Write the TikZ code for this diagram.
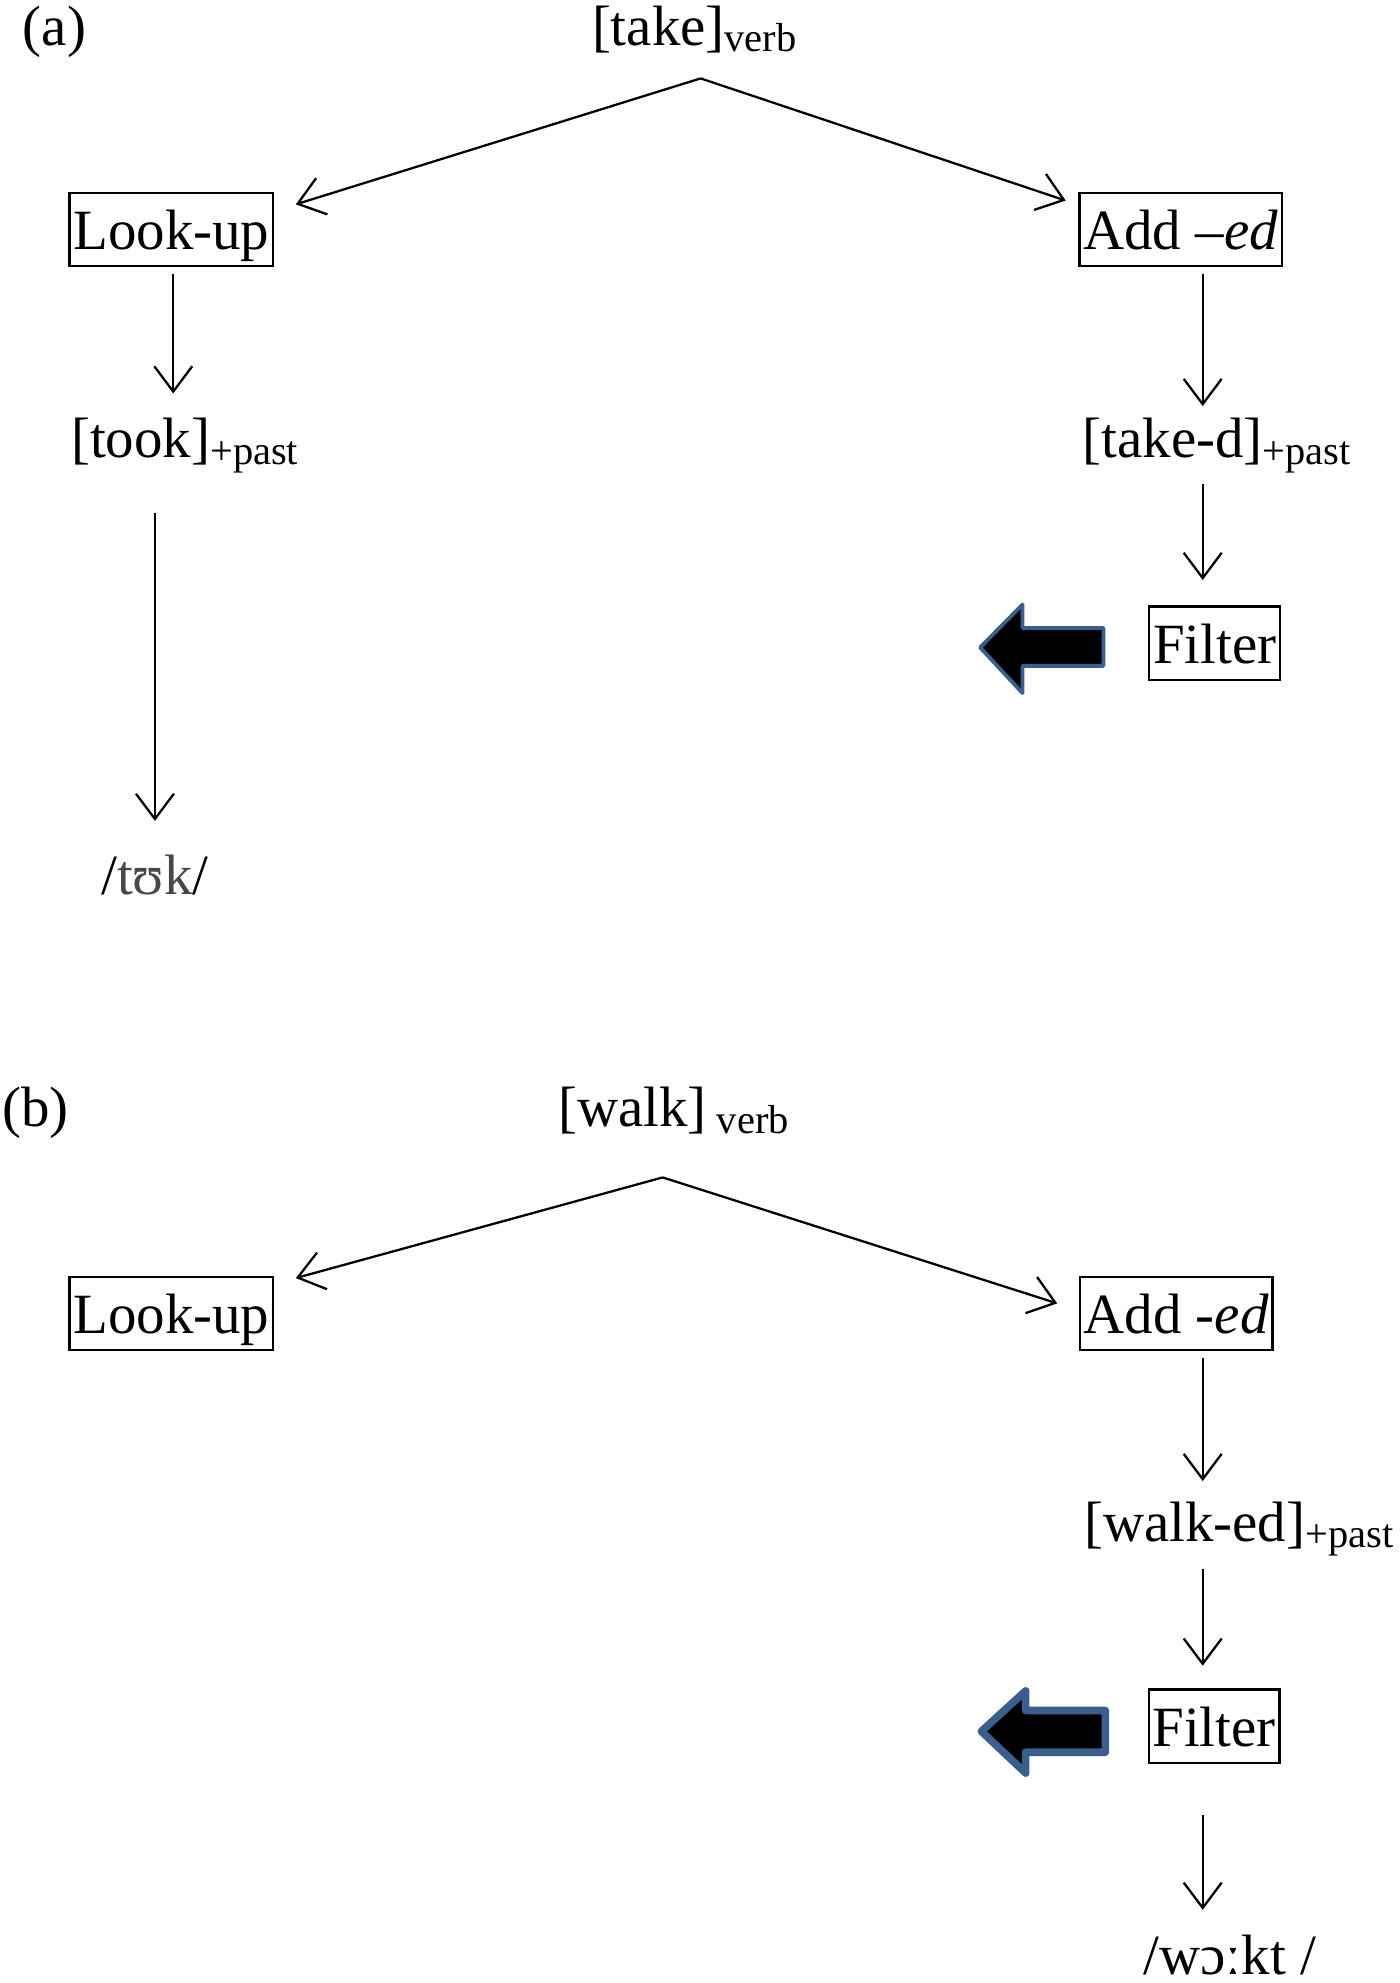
\documentclass[tikz,border=0pt]{standalone}
\usepackage{fontspec}
\setmainfont{Liberation Serif}
\usetikzlibrary{arrows.meta}
\usepackage{xcolor}
\definecolor{arrowblue}{RGB}{59,95,140}
\definecolor{ipagray}{RGB}{72,72,72}
\newcommand{\infl}[1]{{\fontsize{32}{36}\selectfont\raisebox{-5pt}{#1}}}

\begin{document}
\begin{tikzpicture}[x=1pt,y=-1pt,line width=1.8pt,>={Straight Barb[length=20pt,width=30pt]}]
    \tikzstyle{word}=[inner sep=0pt,anchor=base,text height=32pt,text depth=10pt,font=\fontsize{45}{54}\selectfont]
    \tikzstyle{process}=[word,draw,anchor=center,inner xsep=3pt,text height=37pt,text depth=5pt,minimum height=58pt]
    \tikzstyle{flow}=[->]
    \tikzstyle{blockarrow}=[draw=arrowblue,fill=black,line join=round]

    \useasboundingbox (0,0) rectangle (1107,1568);

    % (a) take
    \node[word] (labela) at (43,36) {(a)};
    \node[word] (take) at (549,36) {[take]\infl{verb}};
    \coordinate (top1) at (554,62);

    \node[process] (look1) at (135.5,181.5) {Look-up};
    \node[process] (add1) at (933.5,181.5) {Add –\textit{ed}};
    \node[word] (took) at (146,362) {[took]\infl{+past}};
    \node[word] (taked) at (962,362) {[take-d]\infl{+past}};
    \node[word] (tuk) at (122.5,707) {/\textcolor{ipagray}{tʊk}/};
    \node[process] (filt1) at (960.5,508.5) {Filter};

    \draw[flow] (top1) -- ([xshift=17pt,yshift=-10pt]look1.north east);
    \draw[flow] (top1) -- ([xshift=-10pt,yshift=-7pt]add1.north west);
    \draw[flow,shorten <=5pt,shorten >=18pt] ([xshift=1.5pt]look1.south) -- ([xshift=1.5pt]look1.south |- took.north);
    \draw[flow,shorten <=33pt,shorten >=25pt] (took.south -| tuk.north) -- (tuk.north);
    \draw[flow,shorten <=5pt,shorten >=8pt] ([xshift=17.5pt]add1.south) -- ([xshift=17.5pt]add1.south |- taked.north);
    \draw[flow,shorten <=10pt,shorten >=20pt] ([xshift=-9.5pt]filt1.north |- taked.south) -- ([xshift=-9.5pt]filt1.north);

    \draw[blockarrow,line width=3pt] (775,512) -- (808.5,478) -- (808.5,496.5) -- (872.5,496.5)
        -- (872.5,526.5) -- (808.5,526.5) -- (808.5,548) -- cycle;

    % (b) walk
    \node[word] (labelb) at (28,891) {(b)};
    \node[word] (walk) at (532.5,891) {[walk]\infl{\ verb}};
    \coordinate (top2) at (524,931);

    \node[process] (look2) at (135.5,1038.5) {Look-up};
    \node[process] (add2) at (930,1038.5) {Add \textit{-ed}};
    \node[word] (walked) at (979.5,1219) {[walk-ed]\infl{+past}};
    \node[process] (filt2) at (960,1365) {Filter};
    \node[word,text depth=4pt] (wokt) at (972.5,1561) {/wɔːkt /};

    \draw[flow] (top2) -- ([xshift=17pt,yshift=-2pt]look2.north east);
    \draw[flow] (top2) -- ([xshift=-17pt,yshift=-22pt]add2.north west);
    \draw[flow,shorten <=5pt,shorten >=15pt] ([xshift=21pt]add2.south) -- ([xshift=21pt]add2.south |- walked.north);
    \draw[flow,shorten <=11pt,shorten >=18pt] ([xshift=-9pt]filt2.north |- walked.south) -- ([xshift=-9pt]filt2.north);
    \draw[flow,shorten <=40pt,shorten >=18pt] ([xshift=-9pt]filt2.south) -- ([xshift=-9pt]filt2.south |- wokt.north);

    \draw[blockarrow,line width=6pt] (776,1369) -- (811,1337) -- (811,1352.5) -- (874,1352.5)
        -- (874,1385.5) -- (811,1385.5) -- (811,1402) -- cycle;
\end{tikzpicture}
\end{document}
